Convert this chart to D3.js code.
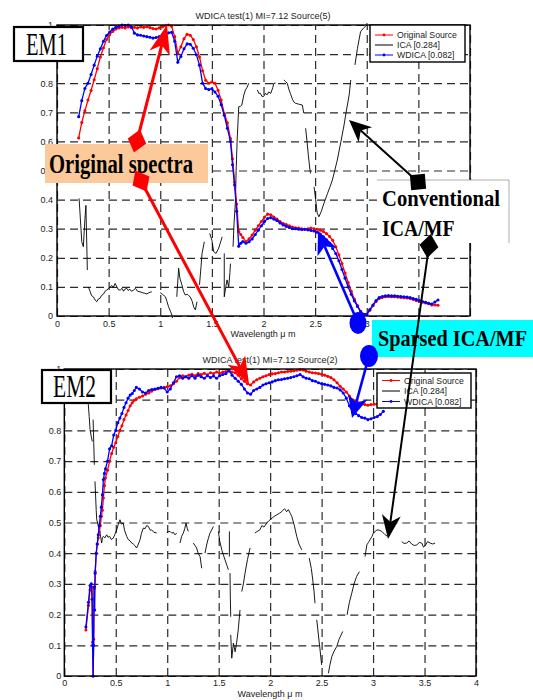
<!DOCTYPE html>
<html>
<head>
<meta charset="utf-8">
<script src="https://cdn.jsdelivr.net/npm/d3@7"></script>
<style>
  body { margin: 0; background: #fff; }
  svg { display: block; }
</style>
</head>
<body>
<svg id="fig" width="533" height="700"></svg>
<script>
// ---------- data ----------
const xTicks = [0, 0.5, 1, 1.5, 2, 2.5, 3, 3.5, 4];
const xTickLabels = ["0", "0.5", "1", "1.5", "2", "2.5", "3", "3.5", "4"];
const yTicks = [0, 0.1, 0.2, 0.3, 0.4, 0.5, 0.6, 0.7, 0.8, 0.9, 1];
const yTickLabels = ["0", "0.1", "0.2", "0.3", "0.4", "0.5", "0.6", "0.7", "0.8", "0.9", "1"];
const legendLabels = ["Original Source", "ICA [0.284]", "WDICA [0.082]"];
const panelTitles = ["WDICA test(1) MI=7.12 Source(5)", "WDICA test(1) MI=7.12 Source(2)"];
const xLabel = "Wavelength \u03bc m";

// Endmember 1 (top panel)
const wavelengthEM1 = [0.21,0.24,0.27,0.30,0.33,0.36,0.39,0.42,0.45,0.48,0.51,0.54,0.57,0.60,0.63,0.66,0.69,0.72,0.75,0.78,
  0.81,0.84,0.87,0.90,0.93,0.96,0.99,1.02,1.05,1.08,1.11,1.14,1.17,1.20,1.23,1.26,1.29,1.32,1.35,1.38,
  1.41,1.44,1.47,1.50,1.53,1.56,1.59,1.62,1.65,1.68,1.70,1.72,1.74,1.76,1.78,1.80,1.83,1.86,1.89,1.92,
  1.95,1.98,2.01,2.04,2.07,2.10,2.13,2.16,2.19,2.22,2.25,2.28,2.31,2.34,2.37,2.40,2.43,2.46,2.49,2.52,
  2.55,2.58,2.61,2.64,2.67,2.70,2.73,2.76,2.79,2.82,2.85,2.88,2.91,2.94,2.97,3.00,3.03,3.06,3.09,3.12,
  3.15,3.18,3.21,3.24,3.27,3.30,3.33,3.36,3.39,3.42,3.45,3.48,3.51,3.54,3.57,3.60,3.63,3.66,3.69];
const originalEM1 = [0.612,0.665,0.705,0.742,0.775,0.812,0.85,0.89,0.922,0.95,0.967,0.978,0.986,0.99,0.992,0.99,0.993,0.991,0.992,0.99,
  0.993,0.992,0.994,0.991,0.988,0.986,0.99,0.993,0.997,1.0,0.996,0.96,0.903,0.925,0.953,0.968,0.965,0.95,0.925,0.89,
  0.843,0.81,0.80,0.804,0.80,0.776,0.742,0.696,0.664,0.61,0.54,0.46,0.385,0.29,0.28,0.27,0.255,0.265,0.278,0.295,
  0.31,0.325,0.34,0.35,0.348,0.34,0.333,0.325,0.318,0.314,0.31,0.306,0.303,0.302,0.30,0.298,0.30,0.302,0.30,0.298,
  0.295,0.29,0.283,0.273,0.26,0.238,0.21,0.18,0.148,0.115,0.085,0.058,0.036,0.016,0.006,0.005,0.02,0.035,0.05,0.06,
  0.064,0.066,0.067,0.066,0.066,0.065,0.064,0.063,0.062,0.06,0.057,0.053,0.05,0.047,0.045,0.042,0.038,0.038,0.037];
const wdicaEM1 = [0.685,0.74,0.782,0.80,0.83,0.862,0.893,0.918,0.944,0.964,0.976,0.986,0.992,0.996,1.0,0.998,1.0,0.994,0.972,0.966,
  0.965,0.962,0.96,0.958,0.955,0.957,0.96,0.963,0.967,0.973,0.975,0.944,0.872,0.892,0.918,0.935,0.934,0.92,0.898,0.862,
  0.80,0.782,0.778,0.781,0.77,0.755,0.726,0.69,0.645,0.60,0.52,0.45,0.36,0.24,0.25,0.256,0.25,0.255,0.265,0.28,
  0.295,0.31,0.325,0.335,0.338,0.333,0.328,0.32,0.313,0.308,0.304,0.30,0.30,0.298,0.297,0.298,0.296,0.294,0.292,0.288,
  0.282,0.272,0.262,0.25,0.232,0.215,0.19,0.16,0.13,0.10,0.075,0.052,0.033,0.015,0.006,0.006,0.022,0.038,0.053,0.063,
  0.067,0.069,0.07,0.069,0.069,0.068,0.067,0.066,0.065,0.063,0.06,0.057,0.053,0.05,0.047,0.044,0.041,0.048,0.055];
// conventional ICA estimate: [wavelength, value], null marks a break in the trace
const icaEM1 = [
  [0.214,0.404],[0.24,0.255],[0.255,0.238],[0.27,0.33],[0.28,0.38],[0.285,0.30],[0.29,0.22],[0.294,0.158], null,
  [0.304,0.10],[0.32,0.085],[0.335,0.07],[0.352,0.066],[0.37,0.055],[0.385,0.049],[0.40,0.058],[0.417,0.061],[0.43,0.07],
  [0.45,0.075],[0.465,0.085],[0.483,0.089],[0.50,0.095],[0.515,0.10],[0.53,0.105],[0.545,0.098],[0.563,0.112],[0.58,0.10],
  [0.595,0.09],[0.612,0.089],[0.63,0.095],[0.645,0.085],[0.66,0.093],[0.676,0.095],[0.69,0.088],[0.705,0.092],[0.72,0.085],
  [0.741,0.089],[0.76,0.095],[0.78,0.085],[0.806,0.083],[0.83,0.08],[0.85,0.078],[0.87,0.076],[0.89,0.08],[0.905,0.082],[0.919,0.083], null,
  [1.0,0.08],[1.02,0.075],[1.05,0.066],[1.065,0.05],[1.08,0.032],[1.10,0.015],[1.113,0.003],[1.12,-0.01], null,
  [1.16,0.066],[1.178,0.164],[1.19,0.13],[1.21,0.107],[1.225,0.085],[1.243,0.072],[1.26,0.075],[1.275,0.07],[1.29,0.066],
  [1.31,0.05],[1.323,0.032],[1.34,0.021],[1.356,0.049], null,
  [1.38,0.107],[1.395,0.17],[1.405,0.215],[1.427,0.255], null,
  [1.479,0.284],[1.50,0.26],[1.518,0.221],[1.54,0.215],[1.566,0.233],[1.585,0.255],[1.60,0.272], null,
  [1.62,0.215],[1.62,0.066],[1.635,0.10],[1.647,0.124],[1.663,0.10],[1.675,0.15],[1.68,0.18], null,
  [1.705,0.238],[1.715,0.32],[1.728,0.393],[1.735,0.50],[1.745,0.605],[1.76,0.719],[1.775,0.72],[1.79,0.725],[1.81,0.76],
  [1.825,0.777],[1.84,0.785],[1.857,0.80], null,
  [1.94,0.777],[1.955,0.765],[1.97,0.765],[1.985,0.755],[2.0,0.754],[2.02,0.765],[2.035,0.76],[2.05,0.77],[2.07,0.765],
  [2.09,0.785],[2.10,0.80],[2.117,0.80], null,
  [2.197,0.811],[2.215,0.805],[2.23,0.80],[2.245,0.78],[2.26,0.765],[2.28,0.745],[2.295,0.735],[2.31,0.731],[2.34,0.728],
  [2.376,0.725],[2.39,0.697], null,
  [2.408,0.645],[2.42,0.605],[2.435,0.55],[2.45,0.502],[2.456,0.49], null,
  [2.49,0.444],[2.505,0.40],[2.52,0.353],[2.537,0.341],[2.56,0.36],[2.585,0.387],[2.62,0.421],[2.645,0.445],[2.667,0.467],
  [2.69,0.50],[2.715,0.536],[2.75,0.60],[2.78,0.656],[2.80,0.70],[2.83,0.76],[2.845,0.811], null,
  [2.886,0.863],[2.91,0.92],[2.94,0.977],[2.97,0.99],[3.0,1.0],[3.02,1.05]
];

// Endmember 2 (bottom panel)
const wavelengthEM2 = [0.21,0.235,0.25,0.262,0.27,0.275,0.28,0.285,0.29,0.295,0.30,0.31,0.32,0.33,0.34,0.35,0.36,0.37,0.38,0.39,
  0.40,0.42,0.44,0.46,0.48,0.50,0.52,0.54,0.56,0.58,0.60,0.62,0.64,0.66,0.68,0.70,0.73,0.76,0.79,0.82,
  0.85,0.88,0.91,0.94,0.97,1.00,1.03,1.06,1.09,1.12,1.15,1.18,1.21,1.24,1.27,1.30,1.33,1.36,1.39,1.42,
  1.45,1.48,1.51,1.54,1.57,1.60,1.63,1.66,1.69,1.72,1.75,1.78,1.81,1.84,1.87,1.90,1.93,1.96,1.99,2.02,
  2.05,2.08,2.11,2.14,2.17,2.20,2.23,2.26,2.29,2.32,2.35,2.38,2.41,2.44,2.47,2.50,2.53,2.56,2.59,2.62,
  2.65,2.68,2.71,2.74,2.77,2.80,2.83,2.86,2.89,2.92,2.95,2.98,3.01,3.04,3.07,3.10];
const originalEM2 = [0.15,0.23,0.28,0.29,0.29,0.11,0.0,0.12,0.285,0.29,0.34,0.40,0.43,0.45,0.47,0.49,0.52,0.54,0.58,0.62,
  0.645,0.67,0.70,0.725,0.745,0.76,0.78,0.80,0.815,0.835,0.85,0.865,0.88,0.89,0.898,0.903,0.908,0.912,0.918,0.922,
  0.928,0.933,0.936,0.938,0.94,0.942,0.945,0.952,0.96,0.972,0.978,0.975,0.98,0.983,0.978,0.985,0.982,0.986,0.981,0.988,
  0.985,0.99,0.986,0.99,0.992,0.993,0.99,0.988,0.98,0.968,0.96,0.952,0.948,0.958,0.965,0.97,0.975,0.978,0.982,0.984,
  0.985,0.988,0.99,0.99,0.992,0.993,0.994,0.996,0.998,0.997,0.993,0.99,0.988,0.987,0.985,0.983,0.98,0.976,0.972,0.965,
  0.955,0.944,0.935,0.925,0.912,0.90,0.895,0.89,0.886,0.884,0.882,0.884,0.885,0.886,0.89,0.895];
const wdicaEM2 = [0.16,0.24,0.295,0.30,0.25,0.10,0.0,0.10,0.29,0.215,0.335,0.40,0.43,0.46,0.49,0.52,0.55,0.59,0.64,0.66,
  0.675,0.70,0.74,0.75,0.785,0.80,0.825,0.84,0.855,0.875,0.89,0.905,0.915,0.92,0.93,0.94,0.935,0.925,0.922,0.93,
  0.933,0.935,0.937,0.94,0.938,0.925,0.935,0.955,0.975,0.978,0.97,0.975,0.97,0.978,0.97,0.98,0.975,0.97,0.978,0.972,
  0.977,0.97,0.978,0.982,0.985,0.995,0.98,0.97,0.96,0.95,0.935,0.922,0.918,0.93,0.935,0.94,0.948,0.952,0.955,0.958,
  0.962,0.965,0.966,0.968,0.97,0.972,0.975,0.978,0.982,0.975,0.97,0.968,0.962,0.96,0.955,0.952,0.95,0.948,0.945,0.94,
  0.938,0.932,0.922,0.905,0.88,0.86,0.855,0.848,0.842,0.84,0.835,0.838,0.842,0.845,0.852,0.862];
const icaEM2 = [
  [0.232,0.89],[0.242,0.845],[0.25,0.803],[0.262,0.78],[0.272,0.764], null,
  [0.28,0.835],[0.286,0.76],[0.292,0.688], null,
  [0.298,0.634],[0.305,0.58],[0.31,0.54],[0.315,0.509],[0.325,0.498],[0.335,0.48],[0.347,0.466],[0.355,0.45],[0.363,0.433],
  [0.37,0.45],[0.38,0.455],[0.395,0.45],[0.412,0.46],[0.425,0.452],[0.44,0.455],[0.455,0.445],[0.476,0.449],[0.49,0.46],
  [0.509,0.476],[0.525,0.495],[0.541,0.509],[0.555,0.495],[0.573,0.498],[0.585,0.475],[0.606,0.455],[0.62,0.445],[0.64,0.44],
  [0.655,0.433],[0.67,0.43],[0.685,0.425],[0.703,0.417],[0.72,0.43],[0.736,0.444],[0.75,0.465],[0.768,0.482],[0.785,0.48],
  [0.80,0.49],[0.817,0.487],[0.835,0.475],[0.849,0.476],[0.87,0.468],[0.898,0.466], null,
  [0.995,0.466],[1.01,0.47],[1.027,0.471],[1.045,0.465],[1.06,0.468],[1.076,0.46],[1.092,0.466], null,
  [1.124,0.433],[1.14,0.455],[1.157,0.466],[1.17,0.48],[1.183,0.498],[1.195,0.48],[1.205,0.471], null,
  [1.254,0.433],[1.27,0.425],[1.286,0.417],[1.30,0.40],[1.319,0.389],[1.335,0.351], null,
  [1.367,0.40],[1.385,0.43],[1.40,0.449],[1.415,0.465],[1.432,0.476],[1.448,0.487], null,
  [1.497,0.471],[1.51,0.44],[1.53,0.411],[1.545,0.395],[1.562,0.378],[1.58,0.36],[1.594,0.346], null,
  [1.604,0.471],[1.604,0.389], null,
  [1.61,0.335],[1.613,0.26],[1.617,0.193], null,
  [1.617,0.134],[1.627,0.058],[1.643,0.107],[1.66,0.079],[1.675,0.11],[1.69,0.15],[1.707,0.215], null,
  [1.724,0.275],[1.74,0.30],[1.756,0.335],[1.78,0.38],[1.805,0.417], null,
  [1.853,0.466],[1.87,0.47],[1.90,0.476],[1.92,0.49],[1.94,0.485],[1.967,0.498],[1.985,0.505],[2.0,0.509],[2.02,0.515],
  [2.04,0.52],[2.064,0.525],[2.09,0.53],[2.113,0.536],[2.14,0.545],[2.16,0.535],[2.177,0.542],[2.195,0.53],[2.21,0.52],
  [2.235,0.49],[2.258,0.455],[2.28,0.43],[2.307,0.411], null,
  [2.38,0.384],[2.40,0.35],[2.414,0.313],[2.425,0.28],[2.436,0.237], null,
  [2.453,0.183],[2.47,0.13],[2.485,0.085],[2.50,0.036], null,
  [2.566,0.009],[2.58,0.035],[2.599,0.063],[2.62,0.08],[2.647,0.096],[2.67,0.12],[2.705,0.145], null,
  [2.747,0.199],[2.77,0.24],[2.793,0.27],[2.815,0.30],[2.84,0.324],[2.867,0.34], null,
  [2.922,0.389],[2.939,0.427],[2.955,0.435],[2.971,0.444],[2.99,0.455],[3.003,0.466],[3.02,0.47],[3.036,0.476],[3.06,0.475],
  [3.085,0.471],[3.117,0.46],[3.14,0.455], null,
  [3.279,0.438],[3.30,0.432],[3.327,0.433],[3.35,0.44],[3.375,0.43],[3.40,0.425],[3.425,0.427],[3.45,0.435],[3.473,0.433],
  [3.49,0.42],[3.505,0.424],[3.53,0.438],[3.554,0.433],[3.58,0.43],[3.603,0.433]
];

// ---------- drawing ----------
const svg = d3.select("#fig");
const SANS = "'Liberation Sans', Arial, sans-serif";
const SERIF = "'Liberation Serif', 'Times New Roman', serif";
const RED = "#ff0000", BLUE = "#0000ff";

function zipSeries(xs, ys) { return xs.map((w, i) => ys[i] == null ? null : [w, ys[i]]); }

function drawPanel(p) {
  const x = d3.scaleLinear().domain([0, 4]).range([p.left, p.right]);
  const y = d3.scaleLinear().domain([0, 1]).range([p.bottom, p.top]);
  const g = svg.append("g");
  const h = p.bottom - p.top, w = p.right - p.left;

  g.append("clipPath").attr("id", p.id).append("rect")
    .attr("x", p.left).attr("y", p.top - 2).attr("width", w).attr("height", h + 4);

  // dashed grid + tick labels through d3 axes
  const xAxis = d3.axisBottom(x).tickValues(xTicks).tickFormat((d, i) => xTickLabels[i])
    .tickSizeInner(-h).tickSizeOuter(0).tickPadding(p.xPad);
  const yAxis = d3.axisLeft(y).tickValues(yTicks).tickFormat((d, i) => yTickLabels[i])
    .tickSizeInner(-w).tickSizeOuter(0).tickPadding(p.yPad);
  const gx = g.append("g").attr("transform", `translate(0,${p.bottom})`).call(xAxis);
  const gy = g.append("g").attr("transform", `translate(${p.left},0)`).call(yAxis);
  [gx, gy].forEach(a => {
    a.select(".domain").remove();
    a.selectAll(".tick line").attr("stroke", "#2a2a2a").attr("stroke-width", 1.2)
      .attr("stroke-dasharray", "8,5");
    a.selectAll(".tick text").attr("font-family", SANS).attr("font-size", 9).attr("fill", "#222");
  });

  const line = d3.line().defined(d => d !== null).x(d => x(d[0])).y(d => y(d[1]));
  const plot = g.append("g").attr("clip-path", `url(#${p.id})`);

  plot.append("path").datum(p.ica).attr("d", line)
    .attr("fill", "none").attr("stroke", "#000").attr("stroke-width", 0.9);

  [[p.original, RED], [p.wdica, BLUE]].forEach(([vals, col]) => {
    const pts = zipSeries(p.wavelength, vals);
    plot.append("path").datum(pts).attr("d", line)
      .attr("fill", "none").attr("stroke", col).attr("stroke-width", 1.3);
    plot.append("g").selectAll("circle").data(pts.filter(d => d)).join("circle")
      .attr("cx", d => x(d[0])).attr("cy", d => y(d[1])).attr("r", 1.55).attr("fill", col);
  });

  // frame
  g.append("rect").attr("x", p.left).attr("y", p.top).attr("width", w).attr("height", h)
    .attr("fill", "none").attr("stroke", "#000").attr("stroke-width", 1.4);

  // title and x label
  g.append("text").attr("x", p.titleX).attr("y", p.titleY).attr("text-anchor", "middle")
    .attr("font-family", SANS).attr("font-size", 9).attr("fill", "#222").text(p.title);
  g.append("text").attr("x", p.titleX).attr("y", p.xLabelY).attr("text-anchor", "middle")
    .attr("font-family", SANS).attr("font-size", 9).attr("fill", "#222").text(xLabel);

  // legend
  const L = p.legend;
  const lg = g.append("g");
  lg.append("rect").attr("x", L.x).attr("y", L.y).attr("width", L.w).attr("height", L.h)
    .attr("fill", "#fff").attr("stroke", "#000").attr("stroke-width", 1.4);
  const cols = [RED, "#000", BLUE];
  legendLabels.forEach((lab, i) => {
    const yy = L.y + L.rows[i];
    lg.append("line").attr("x1", L.x + 5).attr("x2", L.x + 23).attr("y1", yy).attr("y2", yy)
      .attr("stroke", cols[i]).attr("stroke-width", 1);
    if (i !== 1) lg.append("circle").attr("cx", L.x + 14).attr("cy", yy).attr("r", 1.4).attr("fill", cols[i]);
    lg.append("text").attr("x", L.x + 27).attr("y", yy + 3.2).attr("font-family", SANS)
      .attr("font-size", 8.7).attr("fill", "#222").text(lab);
  });
}

drawPanel({
  id: "clipEM1", left: 57, right: 470, top: 25, bottom: 316, xPad: 4.5, yPad: 4,
  wavelength: wavelengthEM1, original: originalEM1, wdica: wdicaEM1, ica: icaEM1,
  title: panelTitles[0], titleX: 263, titleY: 18.5, xLabelY: 337,
  legend: { x: 370, y: 25, w: 95, h: 37, rows: [10, 20, 30] }
});
drawPanel({
  id: "clipEM2", left: 64.3, right: 476, top: 369, bottom: 676, xPad: 4, yPad: 3,
  wavelength: wavelengthEM2, original: originalEM2, wdica: wdicaEM2, ica: icaEM2,
  title: panelTitles[1], titleX: 270, titleY: 362.5, xLabelY: 697,
  legend: { x: 377, y: 373, w: 94, h: 35, rows: [7.5, 18, 28.5] }
});

// ---------- call-out boxes ----------
const notes = svg.append("g");
function labelBox(b) {
  notes.append("rect").attr("x", b.x).attr("y", b.y).attr("width", b.w).attr("height", b.h)
    .attr("fill", b.fill).attr("stroke", b.stroke || "none").attr("stroke-width", b.sw || 0);
  b.lines.forEach(t => {
    notes.append("text").attr("x", t.x).attr("y", t.y).attr("font-family", SERIF)
      .attr("font-size", t.size).attr("font-weight", t.bold ? "bold" : "normal")
      .attr("textLength", t.len).attr("lengthAdjust", "spacingAndGlyphs").attr("fill", "#000").text(t.text);
  });
}
labelBox({ x: 14, y: 27, w: 69, h: 34, fill: "#fff", stroke: "#000", sw: 2.2,
  lines: [{ text: "EM1", x: 26, y: 55, size: 31, len: 41 }] });
labelBox({ x: 42, y: 370, w: 69, h: 33, fill: "#fff", stroke: "#000", sw: 2.2,
  lines: [{ text: "EM2", x: 53, y: 397, size: 31, len: 43 }] });
labelBox({ x: 45, y: 144, w: 163, h: 39, fill: "#fbc99a",
  lines: [{ text: "Original spectra", x: 49, y: 173, size: 27, len: 144, bold: true }] });
labelBox({ x: 377, y: 180, w: 132, h: 63, fill: "#fff",
  lines: [{ text: "Conventional", x: 382, y: 206, size: 24, len: 118, bold: true },
          { text: "ICA/MF", x: 382, y: 236, size: 24, len: 72.5, bold: true }] });
notes.append("polyline").attr("points", "377,180 509,180 509,243")
  .attr("fill", "none").attr("stroke", "#999").attr("stroke-width", 0.8);
labelBox({ x: 372, y: 320, w: 161, h: 37, fill: "#00ffff",
  lines: [{ text: "Sparsed ICA/MF", x: 378, y: 346, size: 24, len: 149, bold: true }] });

// ---------- arrows ----------
function arrow(a) {
  const dx = a.x2 - a.x1, dy = a.y2 - a.y1, L = Math.hypot(dx, dy);
  const ux = dx / L, uy = dy / L, px = -uy, py = ux;
  const bx = a.x2 - ux * a.len, by = a.y2 - uy * a.len;
  const nx = a.x2 - ux * a.len * 0.72, ny = a.y2 - uy * a.len * 0.72;
  notes.append("line").attr("x1", a.x1).attr("y1", a.y1).attr("x2", nx).attr("y2", ny)
    .attr("stroke", a.color).attr("stroke-width", a.lw);
  const head = [[a.x2, a.y2], [bx + px * a.wid / 2, by + py * a.wid / 2], [nx, ny], [bx - px * a.wid / 2, by - py * a.wid / 2]];
  notes.append("polygon").attr("points", head.map(q => q.join(",")).join(" ")).attr("fill", a.color);
  const ang = Math.atan2(dy, dx) * 180 / Math.PI;
  const tail = notes.append("g").attr("transform", `translate(${a.x1},${a.y1}) rotate(${ang})`);
  if (a.tail === "diamond") {
    tail.append("polygon").attr("points", `${-a.ta},0 0,${-a.tb} ${a.ta},0 0,${a.tb}`).attr("fill", a.color);
  } else if (a.tail === "square") {
    tail.append("rect").attr("x", -a.ta).attr("y", -a.ta).attr("width", 2 * a.ta).attr("height", 2 * a.ta)
      .attr("fill", a.color).attr("transform", `rotate(${-ang - 5})`);
  } else {
    notes.append("ellipse").attr("cx", a.x1).attr("cy", a.y1).attr("rx", a.ta).attr("ry", a.tb).attr("fill", a.color);
  }
}
arrow({ x1: 137, y1: 141, x2: 167, y2: 25, color: RED, lw: 3, len: 29, wid: 21, tail: "diamond", ta: 12, tb: 9.5 });
arrow({ x1: 141, y1: 181, x2: 249, y2: 384, color: RED, lw: 3, len: 27, wid: 20, tail: "diamond", ta: 12, tb: 9.5 });
arrow({ x1: 418, y1: 182, x2: 349, y2: 120, color: "#000", lw: 2, len: 22, wid: 20, tail: "square", ta: 7.5 });
arrow({ x1: 429, y1: 246, x2: 388, y2: 539, color: "#000", lw: 2, len: 24, wid: 19, tail: "diamond", ta: 12, tb: 9.5 });
arrow({ x1: 358, y1: 323, x2: 318, y2: 231, color: BLUE, lw: 2.6, len: 23, wid: 21, tail: "ellipse", ta: 8.5, tb: 11 });
arrow({ x1: 369, y1: 356, x2: 352, y2: 418, color: BLUE, lw: 2.6, len: 22, wid: 20, tail: "ellipse", ta: 9, tb: 11 });
</script>
</body>
</html>
